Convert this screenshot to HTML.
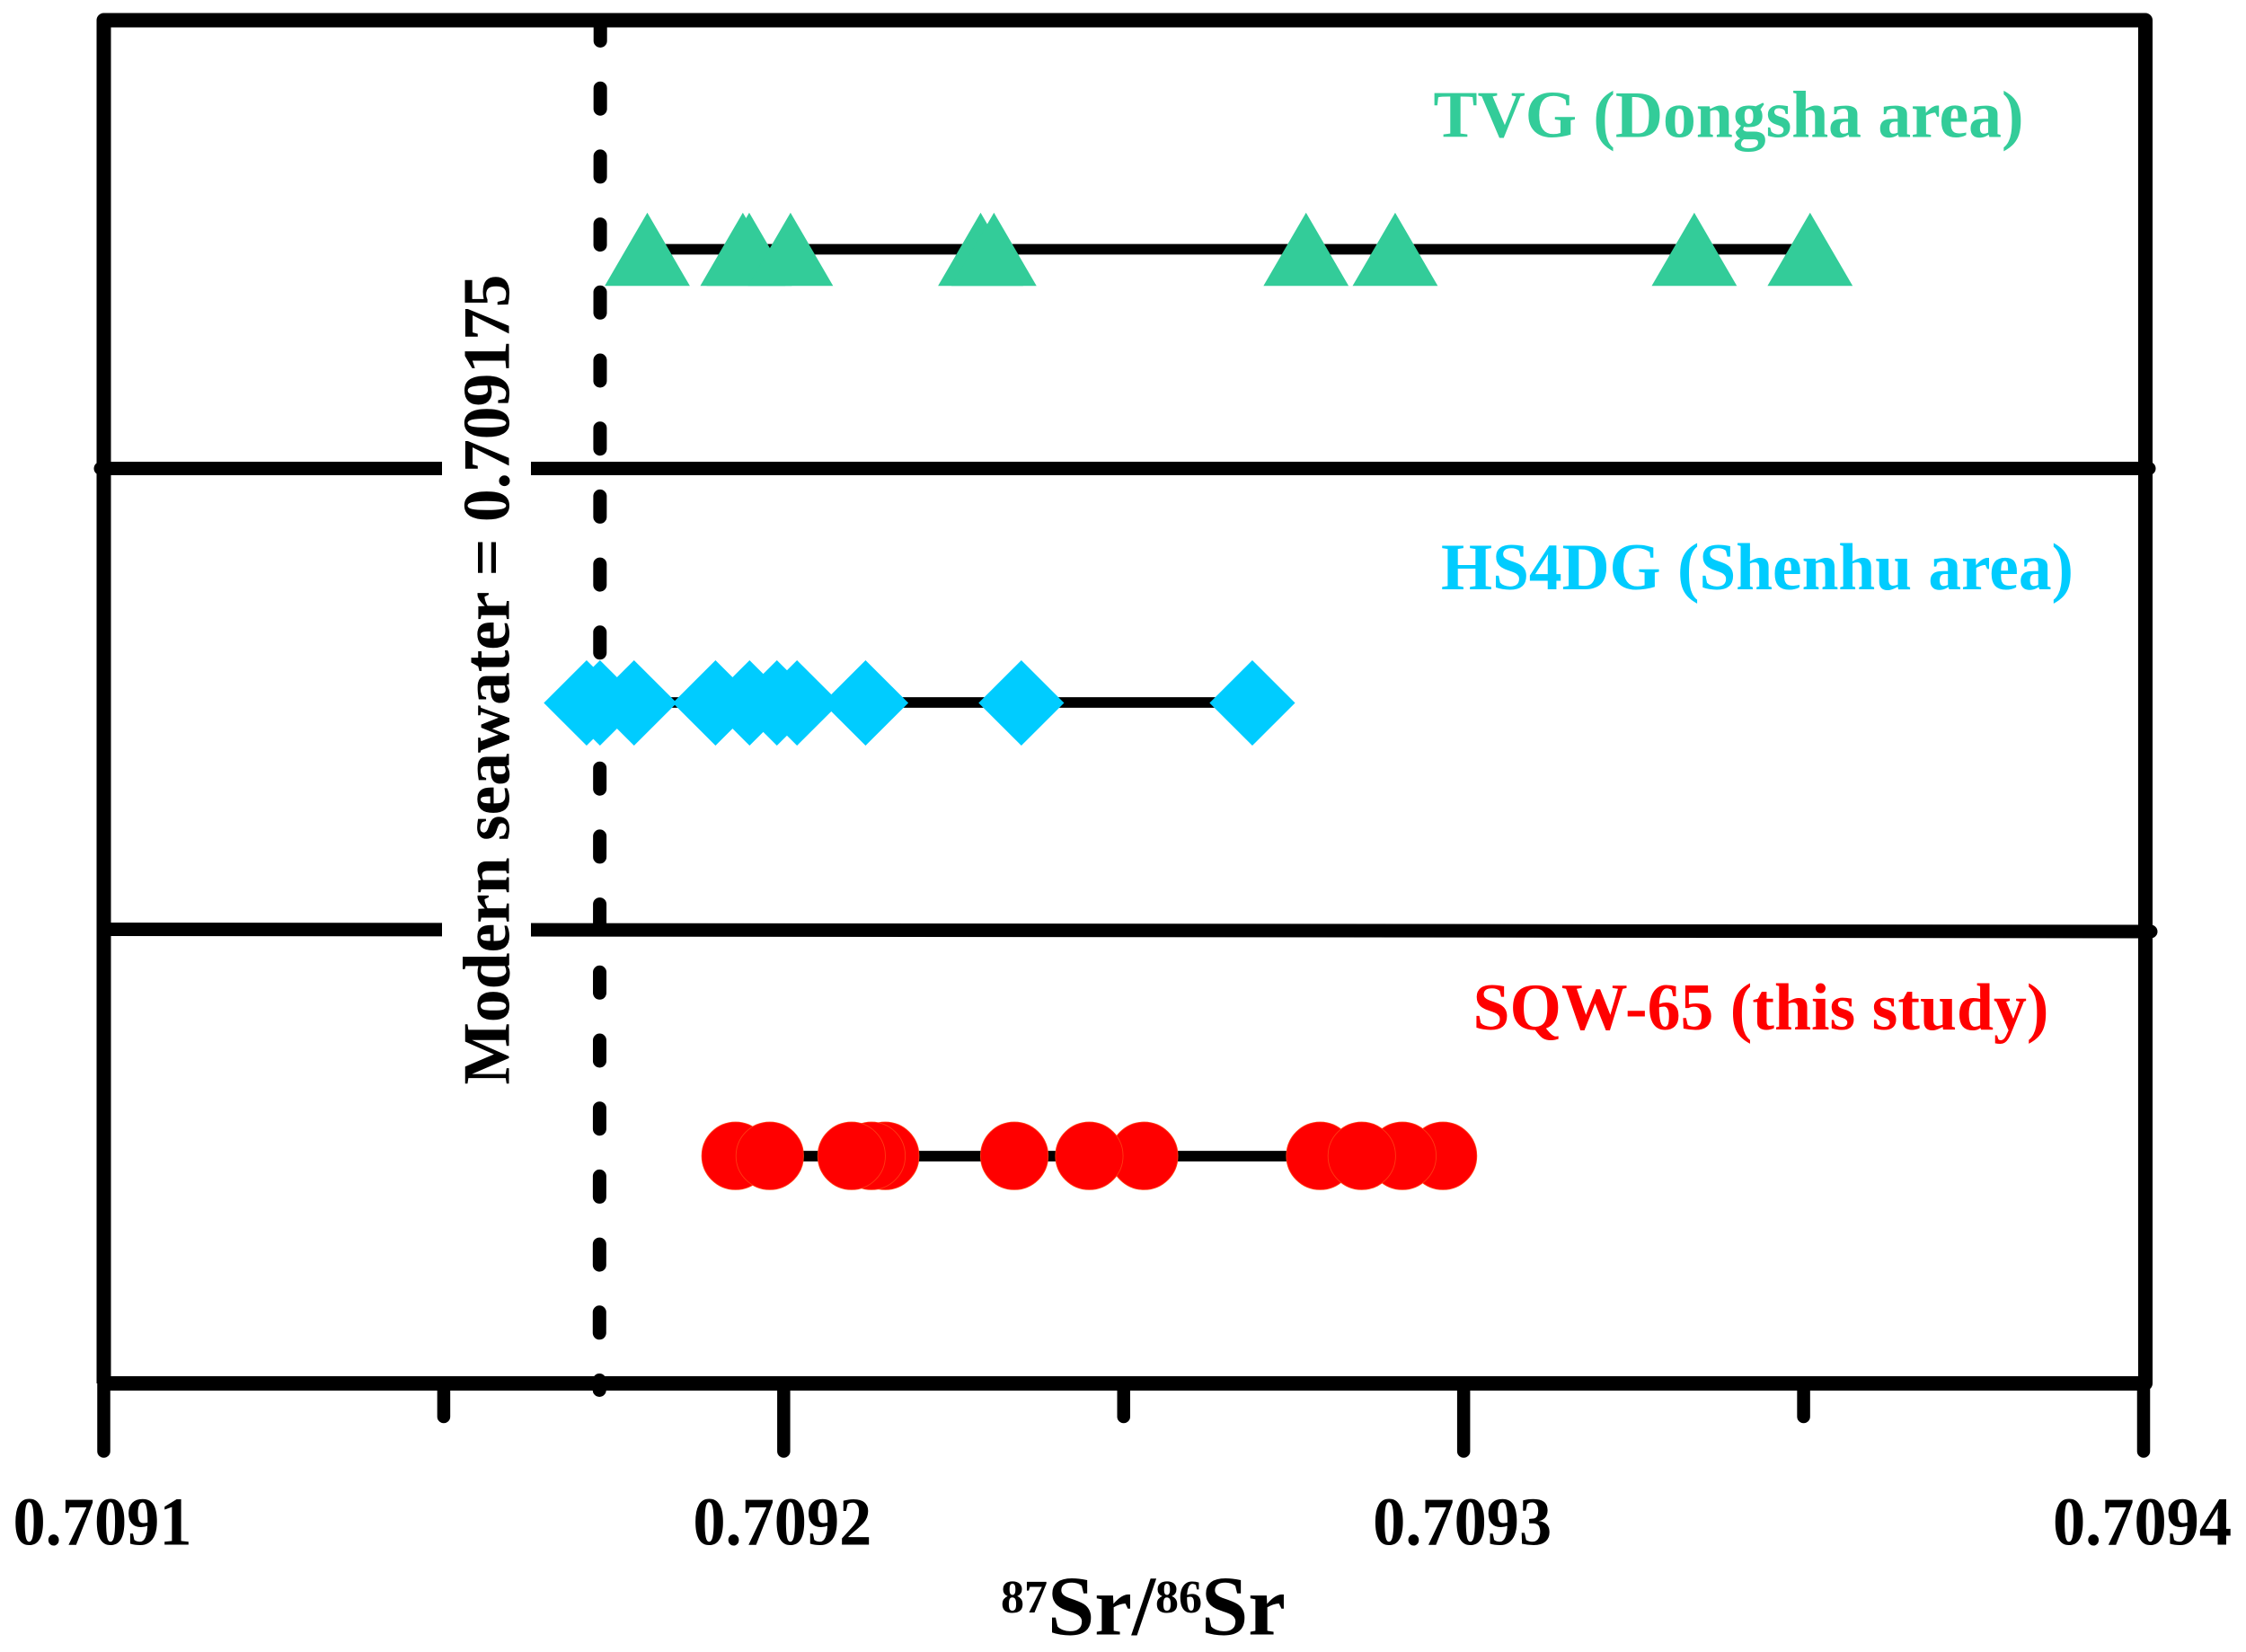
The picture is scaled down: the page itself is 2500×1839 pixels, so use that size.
<!DOCTYPE html>
<html lang="en">
<head>
<meta charset="utf-8">
<title>87Sr/86Sr chart</title>
<style>
html,body{margin:0;padding:0;background:#fff;width:2500px;height:1839px;overflow:hidden}
svg{display:block}
text{font-family:"Liberation Serif",serif;font-weight:bold}
</style>
</head>
<body>
<svg id="chart" xmlns="http://www.w3.org/2000/svg" width="2500" height="1839" viewBox="0 0 2500 1839">
  <rect x="0" y="0" width="2500" height="1839" fill="#fff"/>
  <g id="ticks"></g>
  <line x1="112" y1="521.5" x2="2392" y2="521.5" stroke="#000" stroke-width="15" stroke-linecap="round"/>
  <line x1="116" y1="1034.5" x2="2394" y2="1037" stroke="#000" stroke-width="15" stroke-linecap="round"/>
  <rect x="492" y="510" width="99" height="24" fill="#fff"/>
  <rect x="492" y="1022" width="99" height="24" fill="#fff"/>
  <path d="M115.5 1540V22.5H2388V1540H115.5" fill="none" stroke="#000" stroke-width="16" stroke-linejoin="round"/>
  <line id="seawater-line" y1="22.5" y2="1547.5" stroke="#000" stroke-width="15" stroke-linecap="round" stroke-dasharray="23 52.7"/>
  <g id="tvg-series"></g>
  <g id="hs4dg-series"></g>
  <g id="sqw-series"></g>
  <g id="tick-labels"></g>
  <text x="1595.5" y="152.7" font-size="74" fill="#33cc99" textLength="657" lengthAdjust="spacingAndGlyphs">TVG (Dongsha area)</text>
  <text x="1604" y="656" font-size="74" fill="#00ccff" textLength="704" lengthAdjust="spacingAndGlyphs">HS4DG (Shenhu area)</text>
  <text x="1639.5" y="1146" font-size="74" fill="#ff0000" textLength="641" lengthAdjust="spacingAndGlyphs">SQW-65 (this study)</text>
  <text transform="translate(566.5 1207.5) rotate(-90)" x="0" y="0" font-size="74" fill="#000" textLength="902" lengthAdjust="spacingAndGlyphs">Modern seawater = 0.709175</text>
  <text fill="#000"><tspan x="1114" y="1795" font-size="52">87</tspan><tspan x="1166" y="1819.5" font-size="94">Sr</tspan><tspan x="1260" y="1819.5" font-size="94">/</tspan><tspan x="1286" y="1795" font-size="52">86</tspan><tspan x="1337" y="1819.5" font-size="94">Sr</tspan></text>
</svg>
<script>
const majorTicks = [0.7091, 0.7092, 0.7093, 0.7094];
const minorTicks = [0.70915, 0.70925, 0.70935];
const tickLabels = ["0.7091", "0.7092", "0.7093", "0.7094"];
const seawaterTop = 0.70917303;
const seawaterBottom = 0.70917290;
const tvgValues = [0.70917994, 0.70919399, 0.70919493, 0.70920100, 0.70922896, 0.70923092, 0.70927682, 0.70928993, 0.70933392, 0.70935095];
const hs4dgValues = [0.70917101, 0.70917298, 0.70917799, 0.70918997, 0.70919498, 0.70919900, 0.70920196, 0.70921204, 0.70923495, 0.70926892];
const sqwValues = [0.70919292, 0.70919795, 0.70921493, 0.70921291, 0.70920998, 0.70923392, 0.70925300, 0.70924494, 0.70927890, 0.70929696, 0.70929099, 0.70928502];

const SVG_NS = 'http://www.w3.org/2000/svg';
const xDomain = [0.7091, 0.7094];
const xRange = [115.5, 2386];
const axisY = 1540;

function xScale(v) {
  return xRange[0] + (v - xDomain[0]) / (xDomain[1] - xDomain[0]) * (xRange[1] - xRange[0]);
}

function make(tag, parentId) {
  const el = document.createElementNS(SVG_NS, tag);
  document.getElementById(parentId).appendChild(el);
  return el;
}

function baseline(parentId, values, y) {
  const el = make('line', parentId);
  
  
  el.setAttribute('x1', xScale(Math.min.apply(null, values)));
  el.setAttribute('x2', xScale(Math.max.apply(null, values)));
  el.setAttribute('y1', y);
  el.setAttribute('y2', y);
  el.setAttribute('stroke', '#000');
  el.setAttribute('stroke-width', '11.7');
}

const sw = document.getElementById('seawater-line');
sw.setAttribute('x1', xScale(seawaterTop));
sw.setAttribute('x2', xScale(seawaterBottom));

majorTicks.forEach(function (v) {
  const t = make('line', 'ticks');
  
  
  t.setAttribute('x1', xScale(v));
  t.setAttribute('x2', xScale(v));
  t.setAttribute('y1', axisY);
  t.setAttribute('y2', 1615.5);
  t.setAttribute('stroke', '#000');
  t.setAttribute('stroke-width', '14.5');
  t.setAttribute('stroke-linecap', 'round');
});

minorTicks.forEach(function (v) {
  const t = make('line', 'ticks');
  
  
  t.setAttribute('x1', xScale(v));
  t.setAttribute('x2', xScale(v));
  t.setAttribute('y1', axisY);
  t.setAttribute('y2', 1577);
  t.setAttribute('stroke', '#000');
  t.setAttribute('stroke-width', '14.5');
  t.setAttribute('stroke-linecap', 'round');
});

majorTicks.forEach(function (v, i) {
  const t = make('text', 'tick-labels');
  
  
  t.setAttribute('x', xScale(v) - 1.5);
  t.setAttribute('y', 1719.5);
  t.setAttribute('font-size', '76');
  t.setAttribute('text-anchor', 'middle');
  t.setAttribute('fill', '#000');
  t.setAttribute('textLength', '199');
  t.setAttribute('lengthAdjust', 'spacingAndGlyphs');
  t.textContent = tickLabels[i];
});

baseline('tvg-series', tvgValues, 277.5);
tvgValues.forEach(function (v) {
  const x = xScale(v);
  const m = make('polygon', 'tvg-series');
  
  
  m.setAttribute('points', x + ',236.7 ' + (x + 47.4) + ',318.3 ' + (x - 47.4) + ',318.3');
  m.setAttribute('fill', '#33cc99');
});

baseline('hs4dg-series', hs4dgValues, 782);
hs4dgValues.forEach(function (v) {
  const x = xScale(v);
  const m = make('polygon', 'hs4dg-series');
  
  
  m.setAttribute('points', x + ',735 ' + (x + 47.6) + ',782.5 ' + x + ',830 ' + (x - 47.6) + ',782.5');
  m.setAttribute('fill', '#00ccff');
});

baseline('sqw-series', sqwValues, 1287);
sqwValues.forEach(function (v) {
  const m = make('circle', 'sqw-series');
  
  
  m.setAttribute('cx', xScale(v));
  m.setAttribute('cy', 1286.7);
  m.setAttribute('r', 37.6);
  m.setAttribute('fill', '#ff0000');
  m.setAttribute('stroke', '#ff3a14');
  m.setAttribute('stroke-width', '0.9');
});
</script>
</body>
</html>
